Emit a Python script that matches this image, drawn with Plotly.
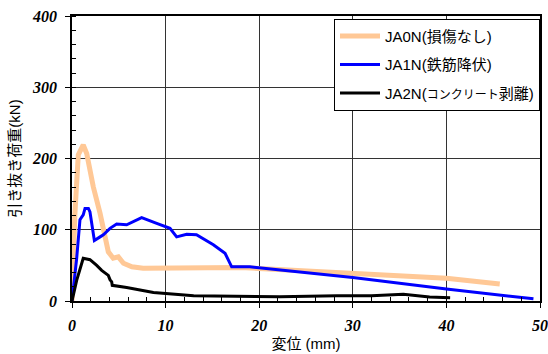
import plotly.graph_objects as go

# JA0N (損傷なし)
x0 = [0, 0.3, 0.67, 0.9, 1.2, 1.57, 2.28, 3.0, 3.5, 3.88, 4.4, 4.95, 5.5, 6.4, 7.6, 10, 14, 18, 21, 25, 30, 35, 40, 45.7]
y0 = [0, 120, 205, 212, 219, 207, 160, 123, 95, 69, 60, 62, 53, 48, 46, 46, 47, 47, 45, 42, 39, 36, 32, 24]
# JA1N (鉄筋降伏)
x1 = [0, 0.5, 0.85, 1.2, 1.39, 1.75, 1.92, 2.39, 3.0, 3.35, 4.06, 4.77, 5.84, 7.44, 9.05, 10.47, 11.18, 12.25, 13.3, 15.1, 16.35, 17.06, 19.0, 22.2, 30, 40, 49.3]
y1 = [0, 60, 114, 121, 130, 130, 125, 85, 90, 93, 102, 108, 107, 117, 109, 102, 90, 93.6, 93, 79, 67, 48, 48, 43.5, 33, 17, 3]
# JA2N (コンクリート剥離)
x2 = [0, 0.5, 1.2, 1.92, 2.64, 3.17, 3.88, 4.06, 4.24, 4.3, 5.84, 8.7, 13.0, 18, 22.2, 28.3, 32, 35.4, 38.2, 40.4]
y2 = [0, 29, 60, 58, 50, 43, 36, 30, 27, 22, 19, 12, 7.5, 6.5, 6, 7.5, 7.5, 9.4, 5.6, 4.7]

names = ["JA0N(損傷なし)", "JA1N(鉄筋降伏)",
         "JA2N(<span style='font-size:12px'>コンクリート</span>剥離)"]
colors = ["#FFC896", "#0000FF", "#000000"]
widths = [5, 3, 3]

x_ticks = [0, 10, 20, 30, 40, 50]
y_ticks = [0, 100, 200, 300, 400]
x_text = ["<b><i>%d</i></b>" % v for v in x_ticks]
y_text = ["<b><i>%d</i></b>" % v for v in y_ticks]

fig = go.Figure()
for i, (xs, ys, n, c, w) in enumerate(zip([x0, x1, x2], [y0, y1, y2], names, colors, widths)):
    fig.add_trace(go.Scatter(x=xs, y=ys, mode="lines", name=n, legendgroup="g%d" % i,
                             line=dict(color=c, width=w)))

tickfont = dict(family="Liberation Serif", size=16, color="black")
sans = "Liberation Sans, Noto Sans CJK JP"

fig.update_layout(
    width=548, height=354,
    margin=dict(l=72, r=8, t=16, b=53, autoexpand=False),
    paper_bgcolor="white", plot_bgcolor="white",
    showlegend=True,
    legend=dict(x=1, xanchor="right", y=0.99, yanchor="top",
                bgcolor="white", bordercolor="black", borderwidth=1,
                font=dict(family=sans, size=15, color="black"),
                itemwidth=40, tracegroupgap=6),
    xaxis=dict(range=[0, 50], tickvals=x_ticks, ticktext=x_text, ticks="outside", ticklen=5,
               tickcolor="black", showline=True, linecolor="black", linewidth=1.5,
               mirror=True, showgrid=True, gridcolor="#333333", gridwidth=1,
               zeroline=False, tickfont=tickfont, ticklabelstandoff=4, automargin=False,
               minor=dict(dtick=2, ticks="inside", ticklen=4, tickcolor="black", showgrid=False),
               title=dict(text="変位 (mm)", font=dict(family=sans, size=15, color="black"), standoff=6)),
    yaxis=dict(range=[0, 400], tickvals=y_ticks, ticktext=y_text, ticks="outside", ticklen=5,
               tickcolor="black", showline=True, linecolor="black", linewidth=1.5,
               mirror=True, showgrid=True, gridcolor="#333333", gridwidth=1,
               zeroline=False, tickfont=tickfont, ticklabelstandoff=5, automargin=False,
               minor=dict(dtick=20, ticks="inside", ticklen=4, tickcolor="black", showgrid=False),
               title=dict(text="引き抜き荷重(kN)", font=dict(family=sans, size=15, color="black"), standoff=8)),
)

fig.write_html("out.html")
